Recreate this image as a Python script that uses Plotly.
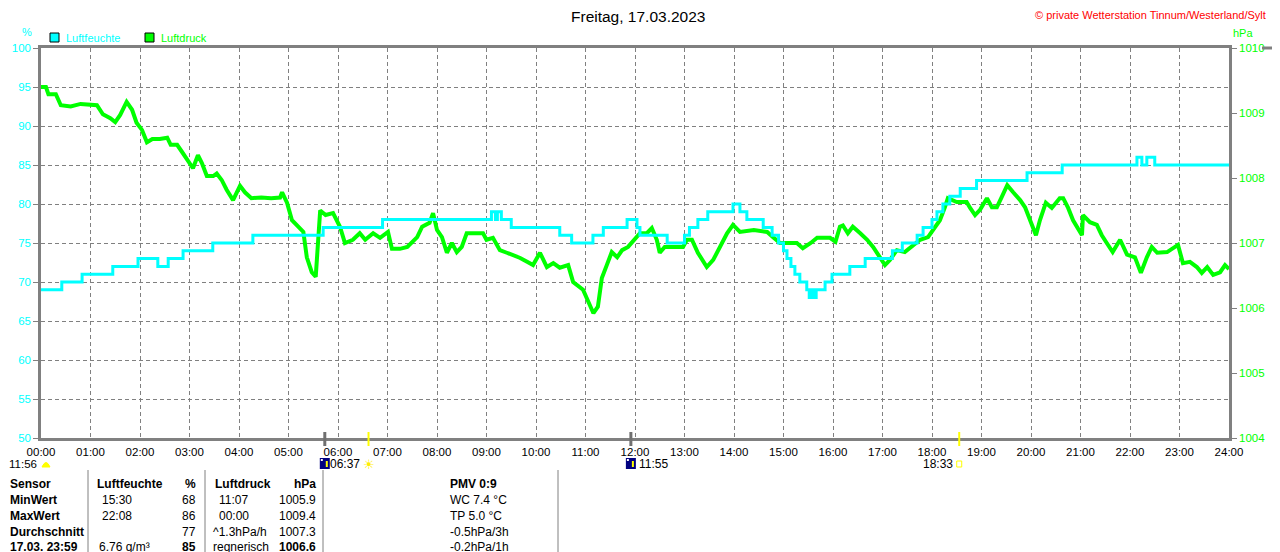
import plotly.graph_objects as go

# Luftfeuchte (%), step changes: hour of day, value
hum_hours = [0, 0.42, 0.83, 1.45, 1.96, 2.36, 2.57, 2.87, 3.47, 4.28, 5.7, 6.9,
             9.1, 9.18, 9.22, 9.3, 9.5, 10.48, 10.72, 11.15, 11.36, 11.84, 12.04,
             12.1, 12.65, 13.0, 13.1, 13.27, 13.47, 13.98, 14.12, 14.26, 14.59,
             14.77, 14.9, 15.0, 15.07, 15.15, 15.23, 15.33, 15.47, 15.52, 15.56,
             15.62, 15.66, 15.84, 15.98, 16.34, 16.65, 17.2, 17.4, 17.7, 17.82,
             18.0, 18.1, 18.22, 18.36, 18.57, 18.9, 19.92, 20.63, 22.14, 22.24,
             22.34, 22.5, 24]
hum_values = [69, 70, 71, 72, 73, 72, 73, 74, 75, 76, 77, 78,
              79, 78, 79, 78, 77, 76, 75, 76, 77, 78, 77,
              76, 75, 76, 77, 78, 79, 80, 79, 78, 77,
              76, 75, 74, 73, 72, 71, 70, 69, 68, 69,
              68, 69, 70, 71, 72, 73, 74, 75, 76, 77,
              78, 79, 80, 81, 82, 83, 84, 85, 86, 85,
              86, 85, 85]

# Luftdruck (hPa)
press_hours = [0.0, 0.1, 0.15, 0.3, 0.4, 0.6, 0.8, 1.0, 1.13, 1.25, 1.4, 1.5, 1.6,
               1.73, 1.84, 1.93, 2.04, 2.14, 2.25, 2.4, 2.55, 2.62, 2.75, 2.85,
               2.97, 3.07, 3.17, 3.25, 3.35, 3.48, 3.55, 3.65, 3.75, 3.88, 4.02,
               4.12, 4.25, 4.45, 4.65, 4.83, 4.87, 4.97, 5.07, 5.17, 5.3, 5.37,
               5.47, 5.55, 5.6, 5.64, 5.75, 5.9, 6.04, 6.14, 6.3, 6.44, 6.55,
               6.71, 6.85, 7.01, 7.09, 7.25, 7.4, 7.6, 7.7, 7.85, 7.92, 8.0, 8.1,
               8.2, 8.3, 8.4, 8.5, 8.6, 8.93, 9.0, 9.13, 9.27, 9.41, 9.53, 9.68,
               9.82, 9.94, 10.08, 10.22, 10.35, 10.48, 10.65, 10.75, 10.95, 11.09,
               11.16, 11.25, 11.33, 11.43, 11.53, 11.64, 11.74, 11.86, 12.0, 12.1,
               12.24, 12.34, 12.44, 12.5, 12.6, 12.97, 13.05, 13.15, 13.27, 13.45,
               13.58, 13.72, 13.86, 13.98, 14.12, 14.4, 14.67, 14.79, 14.93, 15.27,
               15.39, 15.55, 15.68, 15.94, 16.05, 16.14, 16.2, 16.3, 16.4, 16.55,
               16.69, 16.81, 16.95, 17.05, 17.15, 17.29, 17.45, 17.62, 17.76,
               17.92, 18.02, 18.16, 18.26, 18.32, 18.5, 18.7, 18.77, 18.87, 18.97,
               19.11, 19.21, 19.31, 19.41, 19.52, 19.64, 19.78, 19.88, 19.98,
               20.1, 20.18, 20.3, 20.42, 20.58, 20.65, 20.75, 20.85, 20.95, 21.03,
               21.05, 21.19, 21.33, 21.43, 21.53, 21.65, 21.8, 21.94, 22.1, 22.22,
               22.34, 22.44, 22.55, 22.75, 22.97, 23.07, 23.21, 23.35, 23.45,
               23.56, 23.68, 23.82, 23.92, 24.0]
press_values = [1009.40, 1009.40, 1009.29, 1009.29, 1009.12, 1009.10, 1009.14,
                1009.12, 1009.12, 1008.98, 1008.92, 1008.86, 1008.97, 1009.17,
                1009.05, 1008.85, 1008.74, 1008.55, 1008.60, 1008.60, 1008.62,
                1008.51, 1008.51, 1008.40, 1008.25, 1008.15, 1008.35, 1008.23,
                1008.03, 1008.03, 1008.07, 1007.97, 1007.82, 1007.66, 1007.88,
                1007.78, 1007.69, 1007.70, 1007.69, 1007.70, 1007.78, 1007.62,
                1007.35, 1007.28, 1007.17, 1006.78, 1006.55, 1006.48, 1007.09,
                1007.50, 1007.43, 1007.46, 1007.25, 1007.00, 1007.05, 1007.15,
                1007.05, 1007.15, 1007.08, 1007.17, 1006.91, 1006.91, 1006.94,
                1007.09, 1007.25, 1007.31, 1007.46, 1007.20, 1007.09, 1006.85,
                1007.00, 1006.86, 1006.94, 1007.15, 1007.15, 1007.05, 1007.08,
                1006.89, 1006.85, 1006.82, 1006.77, 1006.71, 1006.66, 1006.85,
                1006.63, 1006.69, 1006.62, 1006.66, 1006.40, 1006.28, 1006.05,
                1005.92, 1006.02, 1006.46, 1006.66, 1006.86, 1006.78, 1006.89,
                1006.94, 1007.05, 1007.15, 1007.15, 1007.23, 1007.05, 1006.85,
                1006.94, 1006.94, 1007.05, 1007.05, 1006.85, 1006.63, 1006.74,
                1006.94, 1007.15, 1007.28, 1007.17, 1007.20, 1007.17, 1007.09,
                1007.00, 1007.00, 1006.92, 1007.00, 1007.08, 1007.08, 1007.02,
                1007.25, 1007.27, 1007.15, 1007.25, 1007.15, 1007.05, 1006.94,
                1006.78, 1006.66, 1006.74, 1006.89, 1006.86, 1006.97, 1007.05,
                1007.09, 1007.20, 1007.35, 1007.55, 1007.69, 1007.63, 1007.63,
                1007.54, 1007.43, 1007.51, 1007.69, 1007.55, 1007.55, 1007.71,
                1007.89, 1007.78, 1007.66, 1007.55, 1007.35, 1007.12, 1007.35,
                1007.62, 1007.54, 1007.69, 1007.69, 1007.54, 1007.35, 1007.23,
                1007.12, 1007.43, 1007.32, 1007.28, 1007.12, 1007.00, 1006.86,
                1007.05, 1006.82, 1006.78, 1006.54, 1006.78, 1006.94, 1006.85,
                1006.86, 1006.97, 1006.69, 1006.71, 1006.63, 1006.54, 1006.63,
                1006.51, 1006.55, 1006.66, 1006.60]

hour_ticks = list(range(25))
hour_labels = ["%02d:00" % h for h in hour_ticks]

day_title = "Freitag, 17.03.2023"
station = "© private Wetterstation Tinnum/Westerland/Sylt"

sunrise = "06:37"
sunset = "18:33"
day_length = "11:56"
moon_events = ["05:44", "11:55"]

# table below the chart
row_names = ["Sensor", "MinWert", "MaxWert", "Durchschnitt", "17.03. 23:59"]
hum_info = ["Luftfeuchte", "15:30", "22:08", "", "6.76 g/m³"]
hum_stats = ["%", "68", "86", "77", "85"]
press_info = ["Luftdruck", "11:07", "00:00", "^1.3hPa/h", "regnerisch"]
press_stats = ["hPa", "1005.9", "1009.4", "1007.3", "1006.6"]
extra_info = ["PMV 0:9", "WC 7.4 °C", "TP 5.0 °C", "-0.5hPa/3h", "-0.2hPa/1h"]

CYAN = "#00ffff"
GREEN = "#00ff00"
GRAY = "#808080"
FONT = "Liberation Sans, Arial, sans-serif"

# plot area in screen pixels (page body has an 8px margin)
OFF = 8
L, R, T, B = 41, 1229, 48, 438


def px(x):
    return (x - L) / (R - L)


def py(y):
    return (B - y) / (B - T)


def hours(s):
    h, m = s.split(":")
    return int(h) + int(m) / 60.0


def hx(s):
    return L + hours(s) / 24.0 * (R - L)


fig = go.Figure()
fig.add_trace(go.Scatter(x=press_hours, y=press_values, yaxis="y", mode="lines",
                         line=dict(color=GREEN, width=4), name="Luftdruck"))
fig.add_trace(go.Scatter(x=hum_hours, y=hum_values, yaxis="y2", mode="lines",
                         line=dict(color=CYAN, width=3, shape="hv"), name="Luftfeuchte"))

ann = []
shapes = []


def text(x, y, s, color="black", size=12, anchor="left", bold=False):
    if bold:
        s = "<b>" + s + "</b>"
    ann.append(dict(x=px(x), y=py(y), xref="paper", yref="paper", text=s, showarrow=False,
                    xanchor=anchor, yanchor="middle", font=dict(family=FONT, size=size, color=color)))


def rect(x0, y0, x1, y1, fill, line=None, lw=1):
    shapes.append(dict(type="rect", xref="paper", yref="paper", x0=px(x0), x1=px(x1),
                       y0=py(y1), y1=py(y0), fillcolor=fill,
                       line=dict(color=line or fill, width=lw if line else 0)))


def vline(x, y0, y1, color, w):
    shapes.append(dict(type="line", xref="paper", yref="paper", x0=px(x), x1=px(x),
                       y0=py(y1), y1=py(y0), line=dict(color=color, width=w)))


# title + header texts
text(638, 16, day_title, size=15.5, anchor="center")
text(1268, 15, station, color="#ff0000", size=11, anchor="right")
text(27, 32, "%", color=CYAN, size=11, anchor="center")
text(1231, 33, "hPa", color=GREEN, size=11)

# legend
rect(50, 33, 59, 42, CYAN, "black", 1)
text(64, 38, "Luftfeuchte", color=CYAN, size=11)
rect(145, 33, 154, 42, GREEN, "black", 1)
text(159, 38, "Luftdruck", color=GREEN, size=11)

# sun / moon markers on the time axis
for t in [sunrise, sunset]:
    vline(hx(t), 432, 446, "#ffff00", 2)
for t in moon_events:
    vline(hx(t), 432, 446, "#707070", 3)
    x = hx(t)
    rect(x - 5, 458, x + 5, 469, "#000080")
    rect(x + 1, 461, x + 3, 467, "#ffff00")
    rect(x - 4, 459, x - 2, 461, "#ffffff")

text(39, 464, day_length, anchor="right", size=11.5)
shapes.append(dict(type="path", xref="paper", yref="paper", fillcolor="#ffff00",
                   line=dict(color="#ffff00", width=1),
                   path="M %f,%f Q %f,%f %f,%f Z" % (px(42), py(467), px(46), py(458),
                                                     px(50), py(467))))
text(hx(sunrise) - 7, 464, sunrise, anchor="right")
text(hx(sunrise), 464, "☀", color="#ffee00", size=13, anchor="center")
text(hx(moon_events[1]) + 6, 464, moon_events[1])
text(hx(sunset) - 4, 464, sunset, anchor="right")
rect(hx(sunset) - 2.5, 461, hx(sunset) + 2.5, 467, "rgba(0,0,0,0)", "#ffff00", 1)

# table
row_y = [484, 500, 516, 532, 547]
for i, y in enumerate(row_y):
    head = i == 0
    last = i == len(row_y) - 1
    text(8, y, row_names[i], bold=True)
    hx1 = 95 if head else (100 if ":" in hum_info[i] else 97)
    text(hx1, y, hum_info[i], bold=head)
    text(198, y, hum_stats[i], anchor="right", bold=head or last)
    px1 = 213 if head else (217 if ":" in press_info[i] and len(press_info[i]) == 5 else 211)
    text(px1, y, press_info[i], bold=head)
    text(318, y, press_stats[i], anchor="right", bold=head or last)
    text(448, y, extra_info[i], bold=head)

for x in [88, 205, 323, 558]:
    vline(x, 470, 552, GRAY, 1)
vline(1275, 440, 552, GRAY, 1)
shapes.append(dict(type="line", xref="paper", yref="paper", x0=px(1262), x1=px(1280),
                   y0=py(48), y1=py(48), line=dict(color=GRAY, width=3)))

fig.update_layout(
    width=1280, height=552,
    margin=dict(l=L - OFF, r=1280 - (R - OFF), t=T - OFF, b=552 - (B - OFF),
                autoexpand=False),
    paper_bgcolor="white", plot_bgcolor="white",
    showlegend=False,
    annotations=ann, shapes=shapes,
    xaxis=dict(range=[0, 24], tickvals=hour_ticks, ticktext=hour_labels,
               showline=True, linecolor=GRAY, linewidth=2.5, mirror=True,
               ticks="outside", ticklen=1, tickcolor="rgba(0,0,0,0)",
               showgrid=True, gridcolor=GRAY, gridwidth=1, griddash="4px,3px",
               zeroline=False, automargin=False,
               tickfont=dict(family=FONT, size=11.5, color="black")),
    yaxis=dict(range=[1004, 1010], dtick=1, side="right", showgrid=False,
               showline=True, linecolor=GRAY, linewidth=2.5, zeroline=False,
               ticks="outside", ticklen=5, tickcolor=GRAY, automargin=False,
               tickfont=dict(family=FONT, size=11.5, color=GREEN)),
    yaxis2=dict(range=[50, 100], dtick=5, side="left", overlaying="y",
                showline=True, linecolor=GRAY, linewidth=2.5, zeroline=False,
                showgrid=True, gridcolor=GRAY, gridwidth=1, griddash="4px,3px",
                ticks="outside", ticklen=5, tickcolor=GRAY, automargin=False,
                tickfont=dict(family=FONT, size=11.5, color=CYAN)),
)

fig.write_html("out.html")
